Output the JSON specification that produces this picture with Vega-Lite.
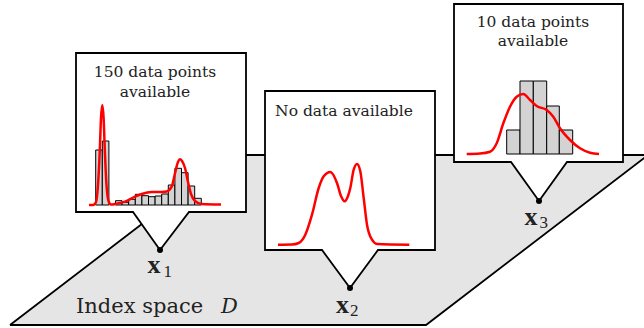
{
  "$schema": "https://vega.github.io/schema/vega-lite/v6.json",
  "width": 644,
  "height": 328,
  "autosize": {"type": "fit", "contains": "padding"},
  "padding": 0,
  "background": "white",
  "config": {"view": {"stroke": null}},
  "datasets": {
    "para_fill": [
      {"x": 10, "y": 325, "y2": 325},
      {"x": 232, "y": 155, "y2": 325},
      {"x": 426, "y": 155, "y2": 325},
      {"x": 648, "y": 155, "y2": 155}
    ],
    "para_line": [
      {"x": 10, "y": 325, "o": 1},
      {"x": 426, "y": 325, "o": 2},
      {"x": 648, "y": 155, "o": 3},
      {"x": 232, "y": 155, "o": 4},
      {"x": 10, "y": 325, "o": 5}
    ],
    "call_fill": [
      {"id": 1, "x": 76, "y": 53, "y2": 212},
      {"id": 1, "x": 133, "y": 53, "y2": 212},
      {"id": 1, "x": 160, "y": 53, "y2": 250},
      {"id": 1, "x": 189, "y": 53, "y2": 212},
      {"id": 1, "x": 246, "y": 53, "y2": 212},
      {"id": 2, "x": 265, "y": 91, "y2": 250},
      {"id": 2, "x": 322, "y": 91, "y2": 250},
      {"id": 2, "x": 350, "y": 91, "y2": 288},
      {"id": 2, "x": 378, "y": 91, "y2": 250},
      {"id": 2, "x": 435, "y": 91, "y2": 250},
      {"id": 3, "x": 454, "y": 4, "y2": 162},
      {"id": 3, "x": 511, "y": 4, "y2": 162},
      {"id": 3, "x": 539, "y": 4, "y2": 201},
      {"id": 3, "x": 567, "y": 4, "y2": 162},
      {"id": 3, "x": 623, "y": 4, "y2": 162}
    ],
    "call_line": [
      {"id": 1, "o": 1, "x": 76, "y": 53},
      {"id": 1, "o": 2, "x": 246, "y": 53},
      {"id": 1, "o": 3, "x": 246, "y": 212},
      {"id": 1, "o": 4, "x": 189, "y": 212},
      {"id": 1, "o": 5, "x": 160, "y": 250},
      {"id": 1, "o": 6, "x": 133, "y": 212},
      {"id": 1, "o": 7, "x": 76, "y": 212},
      {"id": 1, "o": 8, "x": 76, "y": 53},
      {"id": 2, "o": 1, "x": 265, "y": 91},
      {"id": 2, "o": 2, "x": 435, "y": 91},
      {"id": 2, "o": 3, "x": 435, "y": 250},
      {"id": 2, "o": 4, "x": 378, "y": 250},
      {"id": 2, "o": 5, "x": 350, "y": 288},
      {"id": 2, "o": 6, "x": 322, "y": 250},
      {"id": 2, "o": 7, "x": 265, "y": 250},
      {"id": 2, "o": 8, "x": 265, "y": 91},
      {"id": 3, "o": 1, "x": 454, "y": 4},
      {"id": 3, "o": 2, "x": 623, "y": 4},
      {"id": 3, "o": 3, "x": 623, "y": 162},
      {"id": 3, "o": 4, "x": 567, "y": 162},
      {"id": 3, "o": 5, "x": 539, "y": 201},
      {"id": 3, "o": 6, "x": 511, "y": 162},
      {"id": 3, "o": 7, "x": 454, "y": 162},
      {"id": 3, "o": 8, "x": 454, "y": 4}
    ],
    "hist": [
      {"x": 95.7, "x2": 102.3, "y": 150, "y2": 205},
      {"x": 102.3, "x2": 108.9, "y": 141, "y2": 205},
      {"x": 115.5, "x2": 122.1, "y": 200.7, "y2": 205},
      {"x": 122.1, "x2": 128.7, "y": 202.3, "y2": 205},
      {"x": 128.7, "x2": 135.3, "y": 199.3, "y2": 205},
      {"x": 135.3, "x2": 141.9, "y": 194.3, "y2": 205},
      {"x": 141.9, "x2": 148.5, "y": 195.7, "y2": 205},
      {"x": 148.5, "x2": 155.1, "y": 196.7, "y2": 205},
      {"x": 155.1, "x2": 161.7, "y": 196, "y2": 205},
      {"x": 161.7, "x2": 168.3, "y": 194, "y2": 205},
      {"x": 168.3, "x2": 174.9, "y": 185, "y2": 205},
      {"x": 174.9, "x2": 181.5, "y": 168.3, "y2": 205},
      {"x": 181.5, "x2": 188.1, "y": 172.7, "y2": 205},
      {"x": 188.1, "x2": 194.7, "y": 186, "y2": 205},
      {"x": 194.7, "x2": 201.3, "y": 198.3, "y2": 205},
      {"x": 506.7, "x2": 520, "y": 130, "y2": 154},
      {"x": 520, "x2": 533.3, "y": 81, "y2": 154},
      {"x": 533.3, "x2": 546.7, "y": 81, "y2": 154},
      {"x": 546.7, "x2": 559.3, "y": 106, "y2": 154},
      {"x": 559.3, "x2": 572.7, "y": 130, "y2": 154}
    ],
    "curves": [
      {"id": 1, "x": 89, "y": 205},
      {"id": 1, "x": 93, "y": 205},
      {"id": 1, "x": 96, "y": 202},
      {"id": 1, "x": 98, "y": 185},
      {"id": 1, "x": 99.8, "y": 150},
      {"id": 1, "x": 101, "y": 118},
      {"id": 1, "x": 102.3, "y": 105},
      {"id": 1, "x": 103.6, "y": 118},
      {"id": 1, "x": 104.8, "y": 150},
      {"id": 1, "x": 106.5, "y": 185},
      {"id": 1, "x": 108.5, "y": 201},
      {"id": 1, "x": 111, "y": 204.5},
      {"id": 1, "x": 115, "y": 204},
      {"id": 1, "x": 125, "y": 201.7},
      {"id": 1, "x": 135, "y": 196.7},
      {"id": 1, "x": 141.7, "y": 194},
      {"id": 1, "x": 151.7, "y": 192},
      {"id": 1, "x": 161.7, "y": 192},
      {"id": 1, "x": 166.7, "y": 191.5},
      {"id": 1, "x": 171.7, "y": 186.7},
      {"id": 1, "x": 175, "y": 173.3},
      {"id": 1, "x": 178, "y": 162},
      {"id": 1, "x": 180, "y": 159.3},
      {"id": 1, "x": 182, "y": 161},
      {"id": 1, "x": 185, "y": 168},
      {"id": 1, "x": 188, "y": 182},
      {"id": 1, "x": 191, "y": 194},
      {"id": 1, "x": 195, "y": 201},
      {"id": 1, "x": 201.7, "y": 204},
      {"id": 1, "x": 221, "y": 204.5},
      {"id": 2, "x": 278, "y": 244.7},
      {"id": 2, "x": 292, "y": 244.5},
      {"id": 2, "x": 298.7, "y": 243},
      {"id": 2, "x": 305.3, "y": 234.7},
      {"id": 2, "x": 312, "y": 214.7},
      {"id": 2, "x": 318.7, "y": 188},
      {"id": 2, "x": 323.7, "y": 176.3},
      {"id": 2, "x": 330.3, "y": 172},
      {"id": 2, "x": 337, "y": 183},
      {"id": 2, "x": 341, "y": 196},
      {"id": 2, "x": 344.7, "y": 201.3},
      {"id": 2, "x": 348, "y": 196},
      {"id": 2, "x": 350.3, "y": 188},
      {"id": 2, "x": 353.7, "y": 169.7},
      {"id": 2, "x": 357, "y": 164},
      {"id": 2, "x": 360.3, "y": 171.3},
      {"id": 2, "x": 363.7, "y": 198},
      {"id": 2, "x": 367, "y": 224.7},
      {"id": 2, "x": 372, "y": 239.7},
      {"id": 2, "x": 377, "y": 244},
      {"id": 2, "x": 409.3, "y": 244.7},
      {"id": 3, "x": 466.7, "y": 154},
      {"id": 3, "x": 480, "y": 153.5},
      {"id": 3, "x": 490, "y": 151.7},
      {"id": 3, "x": 496.7, "y": 143.3},
      {"id": 3, "x": 503.3, "y": 123.3},
      {"id": 3, "x": 510, "y": 106.7},
      {"id": 3, "x": 516.7, "y": 96.7},
      {"id": 3, "x": 523.3, "y": 94},
      {"id": 3, "x": 530, "y": 100},
      {"id": 3, "x": 536.7, "y": 106},
      {"id": 3, "x": 546.7, "y": 110},
      {"id": 3, "x": 553.3, "y": 116.7},
      {"id": 3, "x": 560, "y": 128.3},
      {"id": 3, "x": 570, "y": 140},
      {"id": 3, "x": 580, "y": 148.3},
      {"id": 3, "x": 590, "y": 152.7},
      {"id": 3, "x": 599, "y": 154}
    ],
    "dots": [
      {"x": 160, "y": 250},
      {"x": 350, "y": 288},
      {"x": 539, "y": 201}
    ],
    "box_text": [
      {"x": 155, "y": 72, "t": "150 data points"},
      {"x": 155, "y": 91.5, "t": "available"},
      {"x": 344, "y": 111, "t": "No data available"},
      {"x": 533, "y": 21.5, "t": "10 data points"},
      {"x": 533, "y": 40.5, "t": "available"}
    ],
    "xlab": [
      {"x": 154, "y": 273.3, "t": "x"},
      {"x": 342.5, "y": 312.7, "t": "x"},
      {"x": 531, "y": 225, "t": "x"}
    ],
    "xsub": [
      {"x": 163.5, "y": 276.5, "t": "1"},
      {"x": 350, "y": 315.5, "t": "2"},
      {"x": 539.5, "y": 227.5, "t": "3"}
    ],
    "idx": [
      {"x": 76, "y": 313, "t": "Index space"}
    ],
    "idxd": [
      {"x": 221, "y": 313, "t": "D"}
    ]
  },
  "encoding": {
    "x": {"field": "x", "type": "quantitative", "scale": {"domain": [0, 644], "nice": false, "zero": false}, "axis": null},
    "y": {"field": "y", "type": "quantitative", "scale": {"domain": [0, 328], "nice": false, "zero": false, "reverse": true}, "axis": null}
  },
  "layer": [
    {
      "data": {"name": "para_fill"},
      "mark": {"type": "area", "color": "#e5e5e5", "clip": true},
      "encoding": {"y2": {"field": "y2"}}
    },
    {
      "data": {"name": "para_line"},
      "mark": {"type": "line", "color": "#000000", "strokeWidth": 1.8, "clip": true, "strokeJoin": "miter"},
      "encoding": {"order": {"field": "o", "type": "quantitative"}}
    },
    {
      "data": {"name": "call_fill"},
      "mark": {"type": "area", "color": "#ffffff"},
      "encoding": {"y2": {"field": "y2"}, "detail": {"field": "id", "type": "nominal"}}
    },
    {
      "data": {"name": "call_line"},
      "mark": {"type": "line", "color": "#000000", "strokeWidth": 1.8, "strokeJoin": "miter", "strokeCap": "square"},
      "encoding": {"order": {"field": "o", "type": "quantitative"}, "detail": {"field": "id", "type": "nominal"}}
    },
    {
      "data": {"name": "hist"},
      "mark": {"type": "rect", "fill": "#d3d3d3", "stroke": "#000000", "strokeWidth": 1},
      "encoding": {"x2": {"field": "x2"}, "y2": {"field": "y2"}}
    },
    {
      "data": {"name": "curves"},
      "mark": {"type": "line", "color": "#ff0000", "strokeWidth": 2.5, "interpolate": "monotone"},
      "encoding": {"detail": {"field": "id", "type": "nominal"}}
    },
    {
      "data": {"name": "dots"},
      "mark": {"type": "point", "filled": true, "color": "#000000", "size": 36, "opacity": 1}
    },
    {
      "data": {"name": "box_text"},
      "mark": {"type": "text", "font": "DejaVu Serif", "fontSize": 15.5, "color": "#222222", "align": "center", "baseline": "middle"},
      "encoding": {"text": {"field": "t"}}
    },
    {
      "data": {"name": "xlab"},
      "mark": {"type": "text", "font": "Liberation Serif", "fontSize": 26, "fontWeight": "bold", "color": "#222222", "align": "center", "baseline": "alphabetic"},
      "encoding": {"text": {"field": "t"}}
    },
    {
      "data": {"name": "xsub"},
      "mark": {"type": "text", "font": "Liberation Serif", "fontSize": 17, "color": "#222222", "align": "left", "baseline": "alphabetic"},
      "encoding": {"text": {"field": "t"}}
    },
    {
      "data": {"name": "idx"},
      "mark": {"type": "text", "font": "DejaVu Serif", "fontSize": 21, "color": "#222222", "align": "left", "baseline": "alphabetic"},
      "encoding": {"text": {"field": "t"}}
    },
    {
      "data": {"name": "idxd"},
      "mark": {"type": "text", "font": "DejaVu Serif", "fontSize": 21, "fontStyle": "italic", "color": "#222222", "align": "left", "baseline": "alphabetic"},
      "encoding": {"text": {"field": "t"}}
    }
  ]
}
